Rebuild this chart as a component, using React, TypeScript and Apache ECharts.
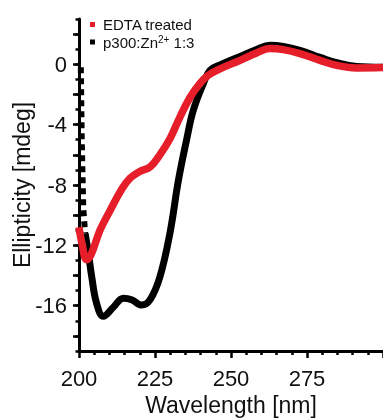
import React, { useEffect, useRef } from "react";
import * as echarts from "echarts";

// ---- data ----
const redNm = [200, 201, 202.5, 204, 206.9, 210.2, 214, 216.8, 220, 223.4, 226.6, 230, 233.2, 236.5, 239.8, 242.5, 246.4, 253, 258.4, 262.8, 267.2, 272.7, 279.3, 284.8, 291.3, 300];
const redVal = [-10.8, -11.9, -12.95, -12.6, -11.0, -9.7, -8.3, -7.55, -7.1, -6.8, -6.0, -4.9, -3.5, -2.2, -1.26, -0.73, -0.3, 0.26, 0.75, 1.04, 0.97, 0.71, 0.26, -0.07, -0.24, -0.22];

const blackSteepNm = [200.6, 200.9, 201.4, 202];
const blackSteepVal = [-0.2, -5, -9.5, -11.2];

const blackNm = [202, 203, 204.2, 205.8, 208, 211.3, 214.6, 217.3, 220.6, 223.4, 226.6, 229.9, 232.7, 235.4, 237.6, 240.9, 243.1, 246.4, 253, 258.4, 262.8, 267.2, 272.7, 279.3, 284.8, 291.3, 300];
const blackVal = [-11.2, -12.4, -14.1, -15.85, -16.7, -16.1, -15.5, -15.6, -15.96, -15.6, -14.1, -11.2, -7.7, -5.0, -3.05, -1.28, -0.4, -0.05, 0.52, 0.98, 1.26, 1.18, 0.92, 0.46, 0.1, -0.15, -0.2];

const seriesNames = ["EDTA treated", "p300:Zn2+ 1:3"];
const yLabelValues = [-16, -12, -8, -4, 0];
const yMajorTicks = [-18, -16, -14, -12, -10, -8, -6, -4, -2, 0, 2];
const xLabelValues = [200, 225, 250, 275];

const FONT = "'Liberation Sans', Arial, sans-serif";
const RED = "#e61e2a";

function pairs(xs: number[], ys: number[]) {
  return xs.map((x, i) => [x, ys[i]]);
}

export default function App() {
  const ref = useRef<HTMLDivElement>(null);
  useEffect(() => {
    const chart = echarts.init(ref.current!, null, { renderer: "svg" });
    chart.setOption({
      animation: false,
      textStyle: { fontFamily: FONT },
      grid: { left: 79, right: 0, top: 19, bottom: 69, containLabel: false, outerBoundsMode: "none" },
      legend: {
        data: seriesNames,
        orient: "vertical",
        left: 90,
        top: 17,
        padding: 0,
        itemWidth: 5,
        itemHeight: 5,
        itemGap: 2,
        icon: "rect",
        formatter: (name: string) =>
          name === seriesNames[1]
            ? "{a|p300:Zn}{s|2+}{b| 1:3}"
            : "{c|EDTA treated}",
        textStyle: {
          color: "#111",
          fontFamily: FONT,
          fontSize: 15,
          rich: {
            a: { fontSize: 15, lineHeight: 16, padding: [0, 0, 0, 3], fontFamily: FONT, color: "#111" },
            b: { fontSize: 15, lineHeight: 16, fontFamily: FONT, color: "#111" },
            c: { fontSize: 15, lineHeight: 16, padding: [0, 0, 0, 3], fontFamily: FONT, color: "#111" },
            s: { fontSize: 10, lineHeight: 12, verticalAlign: "top", fontFamily: FONT, color: "#111" },
          },
        },
      },
      xAxis: {
        type: "value",
        min: 200,
        max: 300,
        interval: 25,
        name: "Wavelength [nm]",
        nameLocation: "middle",
        nameGap: 42,
        nameMoveOverlap: false,
        nameTextStyle: { fontSize: 23, color: "#111", fontFamily: FONT },
        axisLine: { show: true, onZero: false, lineStyle: { color: "#000", width: 3 } },
        axisTick: { show: true, length: 7, lineStyle: { color: "#000", width: 2.5 } },
        minorTick: { show: true, splitNumber: 5, length: 4, lineStyle: { color: "#000", width: 2.5 } },
        axisLabel: { customValues: xLabelValues, fontSize: 22, color: "#111", margin: 16, fontFamily: FONT },
        splitLine: { show: false },
        minorSplitLine: { show: false },
      },
      yAxis: [
        {
          type: "value",
          min: -19,
          max: 3,
          interval: 1,
          name: "Ellipticity [mdeg]",
          nameLocation: "middle",
          nameGap: 46,
          nameMoveOverlap: false,
          nameTextStyle: { fontSize: 23, color: "#111", fontFamily: FONT },
          axisLine: { show: true, onZero: false, lineStyle: { color: "#000", width: 3 } },
          axisTick: { show: true, customValues: yMajorTicks, length: 6, lineStyle: { color: "#000", width: 2.5 } },
          axisLabel: { customValues: yLabelValues, fontSize: 22, color: "#111", margin: 12, fontFamily: FONT },
          splitLine: { show: false },
        },
        {
          type: "value",
          min: -19,
          max: 3,
          interval: 1,
          position: "left",
          axisLine: { show: false },
          axisTick: { show: true, length: 3.5, lineStyle: { color: "#000", width: 2.5 } },
          axisLabel: { show: false },
          splitLine: { show: false },
        },
      ],
      series: [
        {
          name: "p300steep",
          type: "line",
          data: pairs(blackSteepNm, blackSteepVal),
          showSymbol: false,
          lineStyle: { color: "#000", width: 6, type: [6, 5] },
          itemStyle: { color: "#000" },
          silent: true,
        },
        {
          name: seriesNames[1],
          type: "line",
          data: pairs(blackNm, blackVal),
          smooth: 0.4,
          showSymbol: false,
          lineStyle: { color: "#000", width: 7 },
          itemStyle: { color: "#000" },
        },
        {
          name: seriesNames[0],
          type: "line",
          data: pairs(redNm, redVal),
          smooth: 0.4,
          showSymbol: false,
          lineStyle: { color: RED, width: 7.5 },
          itemStyle: { color: RED },
        },
      ],
    });
    return () => chart.dispose();
  }, []);
  return (
    <div
      ref={ref}
      style={{ position: "fixed", left: 0, top: 0, width: 383, height: 420 }}
    />
  );
}
